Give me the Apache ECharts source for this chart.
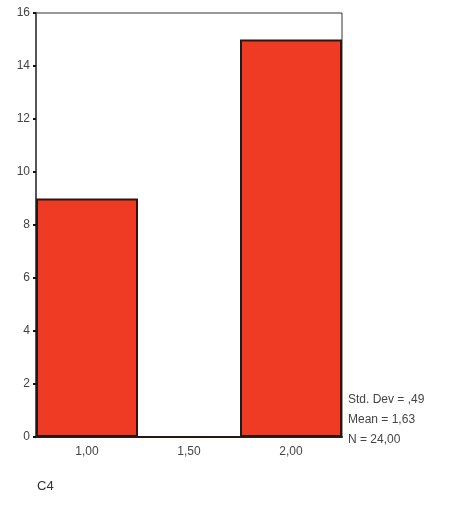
<!DOCTYPE html>
<html>
<head>
<meta charset="utf-8">
<script src="https://cdn.jsdelivr.net/npm/echarts@6/dist/echarts.min.js"></script>
<style>html,body{margin:0;padding:0;background:#fff}#c{width:461px;height:524px}</style>
</head>
<body>
<div id="c"></div>
<script>
var categories = ['1,00', '1,50', '2,00'];
var counts = [9, 0, 15];
var yTicks = [0, 2, 4, 6, 8, 10, 12, 14, 16];
var statsLines = ['Std. Dev = ,49', 'Mean = 1,63', 'N = 24,00'];
var axisTitle = 'C4';

var chart = echarts.init(document.getElementById('c'));
var font = 'Liberation Sans, Arial, sans-serif';
chart.setOption({
  animation: false,
  grid: { left: 36, top: 13, width: 306, height: 424, show: true, borderColor: '#333', borderWidth: 1, backgroundColor: 'transparent' },
  xAxis: {
    type: 'category',
    data: categories,
    boundaryGap: true,
    axisLine: { lineStyle: { color: '#222', width: 2 } },
    axisTick: { alignWithLabel: true, length: 3, lineStyle: { color: '#222', width: 2 } },
    axisLabel: { color: '#444', fontSize: 12, fontFamily: font, margin: 9 }
  },
  yAxis: {
    type: 'value',
    min: yTicks[0],
    max: yTicks[yTicks.length - 1],
    interval: 2,
    splitLine: { show: false },
    axisLine: { show: true, lineStyle: { color: '#555', width: 2 } },
    axisTick: { show: true, length: 3, lineStyle: { color: '#111', width: 2 } },
    axisLabel: { color: '#444', fontSize: 12, fontFamily: font, margin: 6 }
  },
  series: [{
    type: 'bar',
    data: counts,
    barCategoryGap: '0%',
    itemStyle: { color: '#f03b24', borderColor: '#2b1710', borderWidth: 2 }
  }],
  graphic: [
    { type: 'text', left: 348, top: 394, style: { text: statsLines[0], fill: '#444', font: '12px ' + font } },
    { type: 'text', left: 348, top: 414, style: { text: statsLines[1], fill: '#444', font: '12px ' + font } },
    { type: 'text', left: 348, top: 434, style: { text: statsLines[2], fill: '#444', font: '12px ' + font } },
    { type: 'text', left: 37, top: 480, style: { text: axisTitle, fill: '#333', font: '13px ' + font } }
  ]
});
</script>
</body>
</html>
